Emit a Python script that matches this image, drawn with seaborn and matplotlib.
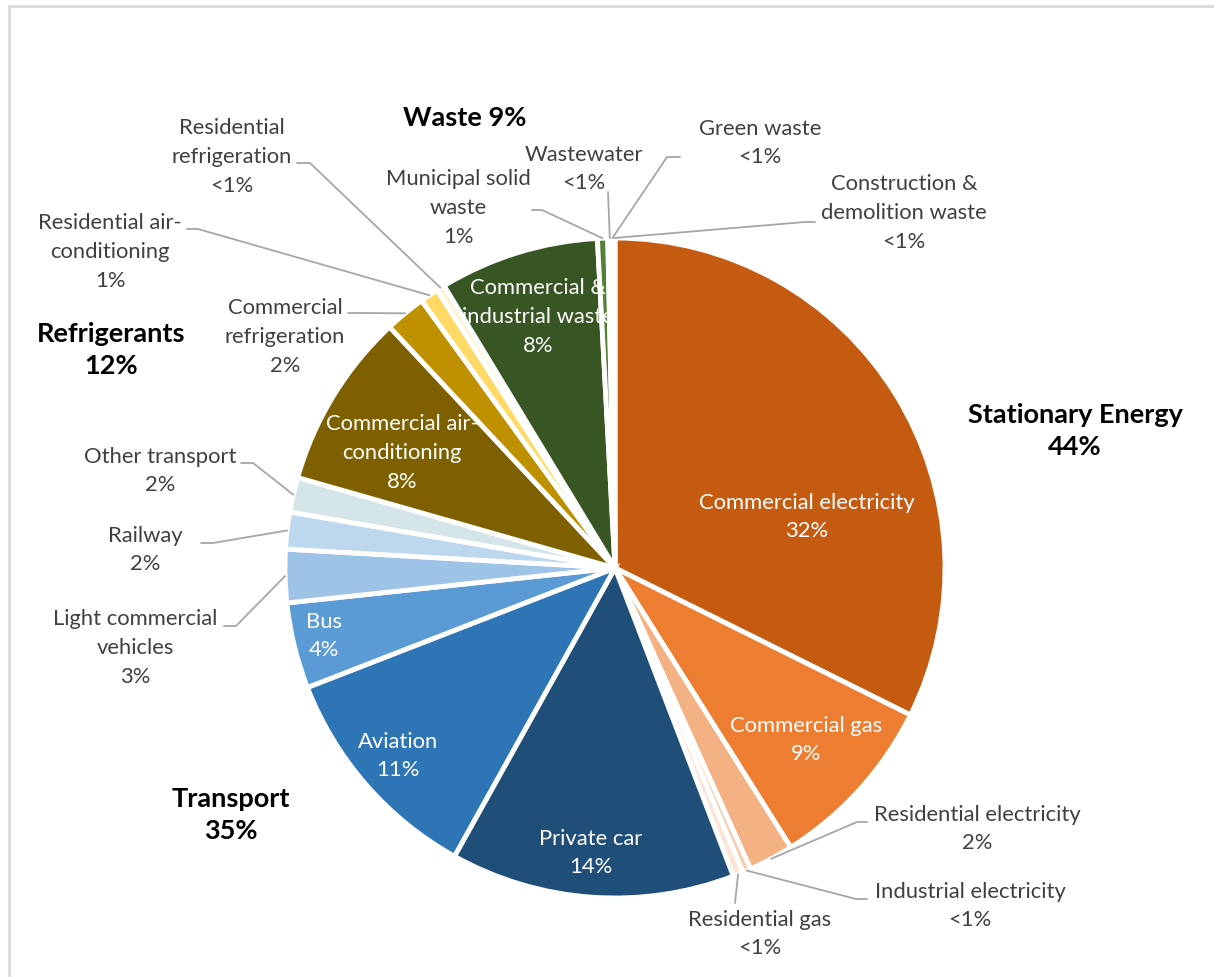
import numpy as np
import matplotlib
matplotlib.use("Agg")
import matplotlib.pyplot as plt
import seaborn as sns

# emission sources, clockwise from the top
sources = [
    "Commercial electricity", "Commercial gas", "Residential electricity",
    "Industrial electricity", "Residential gas",
    "Private car", "Aviation", "Bus", "Light commercial\nvehicles", "Railway",
    "Other transport",
    "Commercial air-\nconditioning", "Commercial\nrefrigeration",
    "Residential air-\nconditioning", "Residential\nrefrigeration",
    "Commercial &\nindustrial waste", "Municipal solid\nwaste", "Wastewater",
    "Green waste", "Construction &\ndemolition waste",
]
shares = [32.3, 8.7, 2.2, 0.4, 0.5,
          13.9, 11.0, 4.2, 2.6, 1.8, 1.7,
          8.6, 2.0, 0.9, 0.4,
          7.8, 0.5, 0.2, 0.05, 0.1]
pct_text = ["32%", "9%", "2%", "<1%", "<1%",
            "14%", "11%", "4%", "3%", "2%", "2%",
            "8%", "2%", "1%", "<1%",
            "8%", "1%", "<1%", "<1%", "<1%"]
colors = ["#C55A11", "#ED7D31", "#F4B183", "#F8CBAD", "#FBE5D6",
          "#1F4E79", "#2E75B6", "#5B9BD5", "#9DC3E6", "#BDD7EE", "#D3E5E8",
          "#7F6000", "#BF9000", "#FFD966", "#FFF2CC",
          "#375623", "#548235", "#A9D18E", "#C5E0B4", "#E2F0D9"]

groups = ["Stationary Energy", "Transport", "Refrigerants", "Waste"]
group_pct = ["44%", "35%", "12%", "9%"]

# ---- layout (pixel positions) ----
W, H = 1214, 977
cx, cy, R = 615, 568, 330

inside = {0: (807, 517), 1: (806, 740), 5: (591, 853), 6: (398, 756),
          7: (324, 636), 11: (402, 453), 15: (538, 317)}
# outside labels: text centre, then leader elbow points (label side first)
outside = {
    2: ((977, 829), [(867, 822), (857, 822)]),
    3: ((970, 906), [(867, 899), (856, 899)]),
    4: ((760, 934), [(735, 903)]),
    8: ((135, 648), [(224, 626), (236, 626)]),
    9: ((145, 550), [(201, 543), (213, 543)]),
    10: ((160, 471), [(241, 463), (253, 463)]),
    12: ((285, 337), [(348, 313), (360, 313)]),
    13: ((110, 252), [(187, 229), (198, 229)]),
    14: ((232, 157), [(297, 163), (310, 163)]),
    16: ((458, 208), [(532, 210), (542, 210)]),
    17: ((584, 169), [(608, 192)]),
    18: ((760, 143), [(680, 157), (667, 157)]),
    19: ((904, 213), [(815, 222), (805, 222)]),
}
group_pos = [(1075, 431), (231, 815), (111, 350), (465, 118)]

sns.set_theme(style="white")
plt.rcParams["font.family"] = ["Lato", "DejaVu Sans"]

fig = plt.figure(figsize=(W / 100, H / 100), dpi=100)
ax = fig.add_axes([0, 0, 1, 1])

# y axis is inverted, so counterclockwise in data = clockwise on screen
wedges, _ = ax.pie(shares, colors=colors, startangle=-90, counterclock=True,
                   center=(cx, cy), radius=R,
                   wedgeprops=dict(edgecolor="white", linewidth=3.5))
ax.set_xlim(0, W)
ax.set_ylim(H, 0)
ax.set_aspect("equal")
ax.axis("off")

for i, w in enumerate(wedges):
    txt = sources[i] + "\n" + pct_text[i]
    if i in inside:
        x, y = inside[i]
        ax.text(x, y, txt, color="white", fontsize=15.8, ha="center", va="center",
                linespacing=1.55)
    else:
        (x, y), elbow = outside[i]
        ax.text(x, y, txt, color="#404040", fontsize=15.8, ha="center", va="center",
                linespacing=1.55)
        mid = np.deg2rad((w.theta1 + w.theta2) / 2)
        end = (cx + R * np.cos(mid), cy + R * np.sin(mid))
        pts = elbow + [end]
        ax.plot([p[0] for p in pts], [p[1] for p in pts], color="#A6A6A6", lw=1.3)

for g, p, pos in zip(groups, group_pct, group_pos):
    sep = " " if g == "Waste" else "\n"
    ax.text(pos[0], pos[1], g + sep + p, color="black", fontsize=19.5,
            fontweight="bold", ha="center", va="center", linespacing=1.4)

# light frame on the top and left edges
ax.plot([9, W], [6, 6], color="#D9D9D9", lw=2, clip_on=False)
ax.plot([9, 9], [6, H], color="#D9D9D9", lw=2, clip_on=False)

fig.savefig("out.png", dpi=100, facecolor="white")
